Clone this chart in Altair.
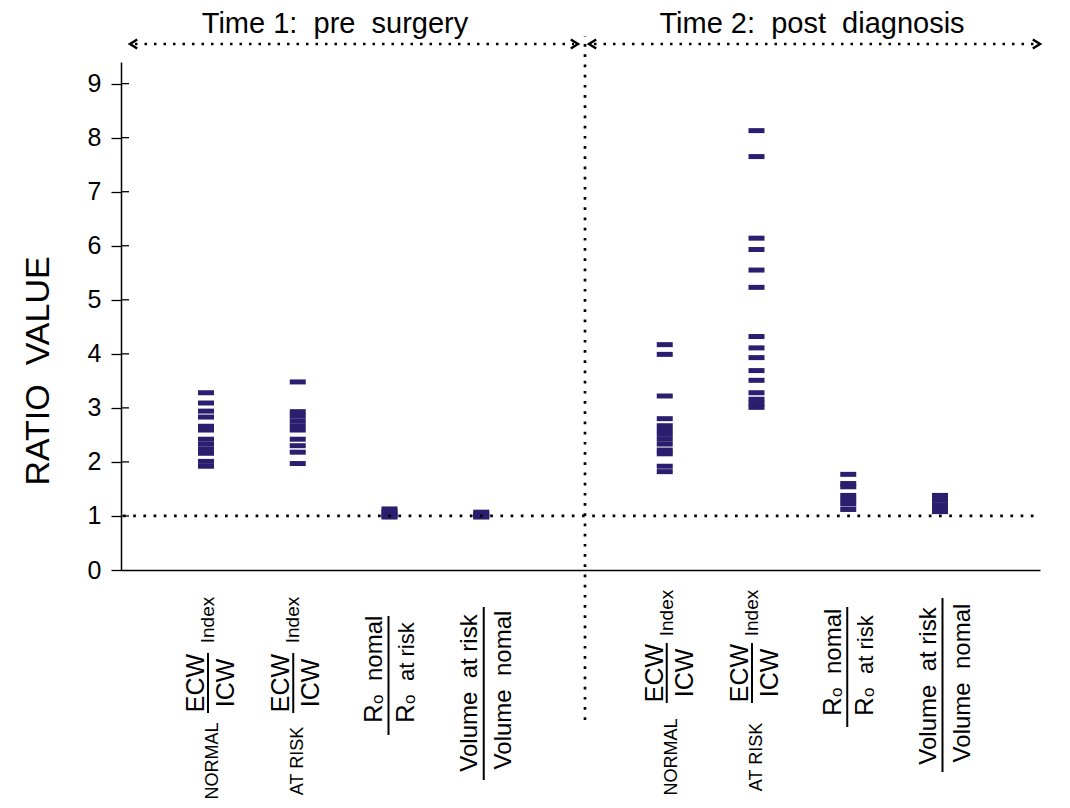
import altair as alt
import pandas as pd

# ---------------- data ----------------
groups = ["Time 1:\u00a0 pre\u00a0 surgery", "Time 2:\u00a0 post\u00a0 diagnosis"]
ratio_kinds = ["NORMAL ECW/ICW Index", "AT RISK ECW/ICW Index",
               "Ro normal / Ro at risk", "Volume at risk / Volume normal"]

t1_normal_ecw = [3.28, 3.09, 2.94, 2.83, 2.66, 2.59, 2.42, 2.33, 2.24, 2.16, 2.01, 1.92]
t1_atrisk_ecw = [3.48, 2.93, 2.85, 2.76, 2.67, 2.59, 2.42, 2.30, 2.18, 1.97]
t1_ro = [1.13, 1.08, 1.04, 1.00, 0.98]
t1_volume = [1.07, 1.03, 1.00, 0.98]
t2_normal_ecw = [4.17, 3.99, 3.22, 2.80, 2.67, 2.59, 2.51, 2.42, 2.33, 2.22, 2.15, 1.92, 1.82]
t2_atrisk_ecw = [8.13, 7.65, 6.14, 5.93, 5.55, 5.23, 4.32, 4.11, 3.93, 3.69, 3.51, 3.28, 3.16, 3.08, 3.01]
t2_ro = [1.77, 1.60, 1.54, 1.38, 1.30, 1.22, 1.12]
t2_volume = [1.38, 1.30, 1.21, 1.13, 1.08]

series = [[t1_normal_ecw, t1_atrisk_ecw, t1_ro, t1_volume],
          [t2_normal_ecw, t2_atrisk_ecw, t2_ro, t2_volume]]

y_tick_values = [0, 1, 2, 3, 4, 5, 6, 7, 8, 9]
reference_ratio = 1

# ---------------- layout helpers ----------------
# slot = position of a category along x: 4 per group, one empty slot between groups
def slot_of(g, k):
    return g * 5 + k

X_LEFT, X_RIGHT = -0.9264, 9.0899   # x-scale domain in slot units
Y_TOP = 9.4
STEP_PX = 91.75
SLOT0_PX = 206.0
PLOT_BOTTOM_PX = 570.0
PX_PER_UNIT_Y = 508 / Y_TOP


def ux(sx):
    return (sx - SLOT0_PX) / STEP_PX


def uy(sy):
    return (PLOT_BOTTOM_PX - sy) / PX_PER_UNIT_Y


xs = alt.Scale(domain=[X_LEFT, X_RIGHT], nice=False, zero=False)
ys = alt.Scale(domain=[0, Y_TOP], nice=False, zero=False)


def X(field):
    return alt.X(field, scale=xs, title=None)


def Y(field):
    return alt.Y(field, scale=ys, title=None)


rows = []
for g in range(2):
    for k in range(4):
        for v in series[g][k]:
            rows.append({"slot": slot_of(g, k), "value": v,
                         "kind": ratio_kinds[k], "time": g + 1})
df = pd.DataFrame(rows)

FONT = "Liberation Sans"
NAVY = "#2B1E6E"

ticks = alt.Chart(df).mark_tick(orient="horizontal", size=16, thickness=5,
                                color=NAVY, opacity=1).encode(
    x=alt.X("slot:Q", scale=xs, title=None,
            axis=alt.Axis(labels=False, ticks=False, grid=False, title=None,
                          domainColor="black", domainWidth=1.5)),
    y=alt.Y("value:Q", scale=ys, title=None,
            axis=alt.Axis(values=y_tick_values, grid=False, title=None,
                          tickSize=10, tickColor="black", tickWidth=1.3,
                          domainColor="black", domainWidth=1.5,
                          labelFont=FONT, labelFontSize=25, labelColor="black",
                          labelPadding=10)),
)

# inner half of the crossing y-axis ticks
inner = alt.Chart(pd.DataFrame({"v": y_tick_values[1:], "x": ux(121), "x2": ux(129)})).mark_rule(
    color="black", strokeWidth=1.3).encode(
    x=X("x:Q"), x2="x2:Q", y=Y("v:Q"))

ref = alt.Chart(pd.DataFrame({"v": [reference_ratio], "x": [ux(123)], "x2": [ux(1036)]})).mark_rule(
    color="black", strokeWidth=2.7, strokeDash=[2.7, 7.5]).encode(
    x=X("x:Q"), x2="x2:Q", y=Y("v:Q"))

sep = alt.Chart(pd.DataFrame({"x": [ux(585)], "y": [uy(720)], "y2": [uy(36)]})).mark_rule(
    color="black", strokeWidth=2.7, strokeDash=[2.7, 7.5]).encode(
    x=X("x:Q"), y=Y("y:Q"), y2="y2:Q")

arrow_lines = alt.Chart(pd.DataFrame({
    "x": [ux(135), ux(594)], "x2": [ux(574), ux(1035)], "y": [uy(44), uy(44)]})).mark_rule(
    color="black", strokeWidth=2.5, strokeDash=[2.5, 7]).encode(
    x=X("x:Q"), x2="x2:Q", y=Y("y:Q"))

left_heads = alt.Chart(pd.DataFrame({"x": [ux(133.6), ux(592.6)], "y": [uy(44), uy(44)]})).mark_point(
    shape="M 0.8 -1 L -0.8 0 L 0.8 1", filled=False, size=81, strokeWidth=2.5,
    color="black", opacity=1).encode(x=X("x:Q"), y=Y("y:Q"))

right_heads = alt.Chart(pd.DataFrame({"x": [ux(574.4), ux(1036.4)], "y": [uy(44), uy(44)]})).mark_point(
    shape="M -0.8 -1 L 0.8 0 L -0.8 1", filled=False, size=81, strokeWidth=2.5,
    color="black", opacity=1).encode(x=X("x:Q"), y=Y("y:Q"))

# ---------------- label texts ----------------
rot_center, rot_left, bars = [], [], []
for g in range(2):
    for k in range(4):
        cx = SLOT0_PX + STEP_PX * slot_of(g, k)
        if k in (0, 1):
            prefix = "NORMAL" if k == 0 else "AT RISK"
            b = cx + (2 if k == 0 else -4.5)
            yc = 683 if g == 0 else 673
            bars.append({"x": ux(b), "y": uy(yc + 30), "y2": uy(yc - 30)})
            rot_center.append({"x": ux(b - 4), "y": uy(yc), "t": "ECW", "fs": 25})
            rot_center.append({"x": ux(b + 26), "y": uy(yc), "t": "ICW", "fs": 25})
            rot_center.append({"x": ux(b + 6), "y": uy(620 if g == 0 else 613), "t": "Index", "fs": 19})
            rot_center.append({"x": ux(b + 10), "y": uy(761 if g == 0 else 757), "t": prefix, "fs": 18})
        elif k == 2:
            b = cx - 1
            lo, hi = (735, 616) if g == 0 else (727, 607)
            bars.append({"x": ux(b), "y": uy(lo), "y2": uy(hi)})
            s = 723 if g == 0 else 716
            for bx, word, fs in ((b - 6, "nomal", 24), (b + 26, "at risk", 22)):
                rot_left.append({"x": ux(bx), "y": uy(s), "t": "R", "fs": 26})
                rot_left.append({"x": ux(bx + 1), "y": uy(s - 19), "t": "o", "fs": 17})
                rot_left.append({"x": ux(bx), "y": uy(s - 42), "t": word, "fs": fs})
        else:
            b = cx + 2.5
            lo, hi = (780, 607) if g == 0 else (772, 598)
            bars.append({"x": ux(b), "y": uy(lo), "y2": uy(hi)})
            rot_center.append({"x": ux(b - 7), "y": uy(693 if g == 0 else 686),
                               "t": "Volume\u00a0 at risk", "fs": 24})
            rot_center.append({"x": ux(b + 27), "y": uy(690 if g == 0 else 683),
                               "t": "Volume\u00a0 nomal", "fs": 24})

# y title
rot_center.append({"x": ux(49), "y": uy(371), "t": "RATIO\u00a0 VALUE", "fs": 34})

frac_bars = alt.Chart(pd.DataFrame(bars)).mark_rule(color="black", strokeWidth=2).encode(
    x=X("x:Q"), y=Y("y:Q"), y2="y2:Q")

txt_c = alt.Chart(pd.DataFrame(rot_center)).mark_text(
    angle=270, align="center", baseline="alphabetic", font=FONT, color="black").encode(
    x=X("x:Q"), y=Y("y:Q"),
    text="t:N", size=alt.Size("fs:Q", scale=None, legend=None))

txt_l = alt.Chart(pd.DataFrame(rot_left)).mark_text(
    angle=270, align="left", baseline="alphabetic", font=FONT, color="black").encode(
    x=X("x:Q"), y=Y("y:Q"),
    text="t:N", size=alt.Size("fs:Q", scale=None, legend=None))

headers = alt.Chart(pd.DataFrame({
    "x": [ux(335), ux(812)], "y": [uy(33), uy(33)], "t": groups})).mark_text(
    align="center", baseline="alphabetic", font=FONT, fontSize=29, color="black").encode(
    x=X("x:Q"), y=Y("y:Q"), text="t:N")

chart = alt.layer(
    ticks, inner, ref, sep, arrow_lines, left_heads, right_heads,
    frac_bars, txt_c, txt_l, headers
).properties(
    width=919, height=508, autosize="none",
    padding={"left": 113, "top": 54, "right": 20, "bottom": 230},
).configure_view(stroke=None)

chart.save("out.html", embed_options={"renderer": "svg", "actions": False})
